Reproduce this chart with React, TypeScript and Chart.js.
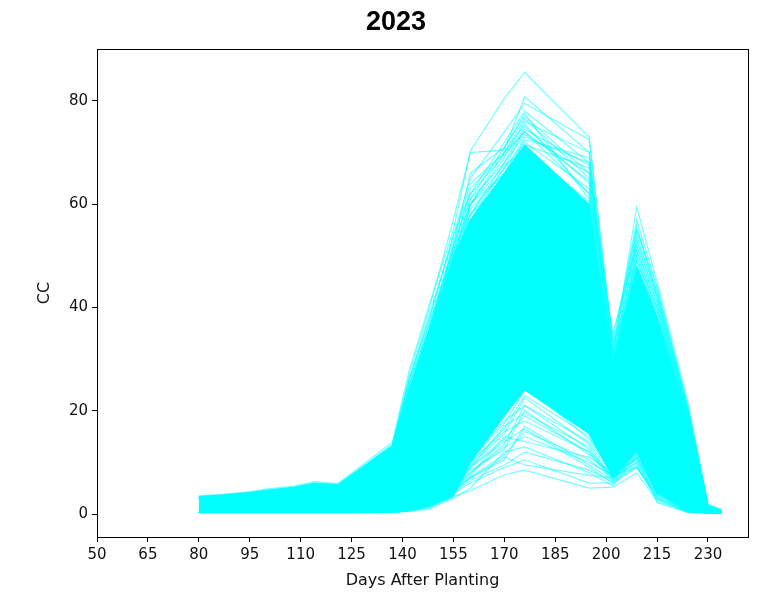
import React, { useEffect, useRef } from "react";
import { Chart, registerables } from "chart.js";

Chart.register(...registerables);

// Observation days (x knots shared by all series)
const DAYS = [80, 87, 95, 101, 108, 114, 121, 137, 142, 148, 155, 160, 170, 176, 195, 202, 209, 215, 224, 230, 234];

const X_TICKS = [50, 65, 80, 95, 110, 125, 140, 155, 170, 185, 200, 215, 230];
const Y_TICKS = [0, 20, 40, 60, 80];

const TITLE = "2023";
const X_LABEL = "Days After Planting";
const Y_LABEL = "CC";

// Dense core of the bundle of plots (upper / lower boundary of the solid region)
const BAND_TOP = [3.4, 3.7, 4.2, 4.7, 5.2, 6.0, 5.7, 13.2, 24, 36, 50, 57, 66, 71.5, 60, 29, 48, 38, 18.5, 1.6, 0.8];
const BAND_BOTTOM = [0.3, 0.3, 0.3, 0.3, 0.3, 0.3, 0.3, 0.3, 0.6, 1.5, 3.4, 10, 19, 24, 15.5, 7, 12, 4, 0.8, 0.2, 0.2];

// Individual plots sticking out above the dense core
const UPPER_1 = [3.5, 3.8, 4.3, 4.9, 5.4, 6.3, 5.9, 13.9, 27.8, 40.8, 55, 70.3, 80.5, 85.5, 73, 33, 45, 38, 20, 1.5, 0.5];
const UPPER_2 = [3.3, 3.6, 4.1, 4.6, 5.1, 5.9, 5.6, 13.5, 27, 40, 57, 70, 70.5, 80.8, 70, 31, 59.5, 45, 21.8, 2, 0.8];
const UPPER_3 = [3.2, 3.5, 4.0, 4.5, 5.0, 5.8, 5.5, 13, 26, 38, 54, 65, 74, 79.5, 72.5, 32, 57, 44, 21, 1.8, 0.6];
const UPPER_4 = [3.1, 3.4, 3.9, 4.4, 4.9, 5.7, 5.4, 12.8, 25, 36, 52, 62, 72, 78, 68, 30, 55, 43, 20.5, 1.5, 0.5];
const UPPER_5 = [3.0, 3.3, 3.8, 4.3, 4.8, 5.6, 5.3, 12.5, 24, 35, 50, 61, 71, 77, 66, 29, 54, 42, 20, 1.4, 0.5];
const UPPER_6 = [3.2, 3.5, 4.0, 4.5, 5.0, 5.8, 5.5, 13, 24, 36, 51, 63, 70, 76.5, 65, 28, 53, 41, 19.5, 1.3, 0.4];
const UPPER_7 = [3.0, 3.3, 3.8, 4.3, 4.8, 5.6, 5.3, 12, 23, 34, 49, 60, 69, 76, 70, 31, 52, 40, 19, 1.2, 0.4];
const UPPER_8 = [2.9, 3.2, 3.7, 4.2, 4.7, 5.5, 5.2, 12, 22, 33, 48, 58, 68, 75, 64, 27, 51, 39, 18.5, 1.1, 0.4];
const UPPER_9 = [3.1, 3.4, 3.9, 4.4, 4.9, 5.7, 5.4, 12.6, 22, 33, 47, 57, 67, 74.5, 67.5, 29, 50, 38, 18, 1, 0.3];
const UPPER_10 = [2.8, 3.1, 3.6, 4.1, 4.6, 5.4, 5.1, 11.5, 21, 31, 46, 60, 66, 73, 68, 30, 49, 38, 17.5, 1, 0.3];
const UPPER_11 = [3.0, 3.3, 3.8, 4.3, 4.8, 5.6, 5.3, 12.2, 23, 35, 50, 60, 70, 74, 62, 35, 52, 42, 20, 1.6, 0.6];
const UPPER_12 = [3.0, 3.3, 3.8, 4.3, 4.8, 5.6, 5.3, 13.0, 25, 37, 51, 58, 67, 72, 63, 28, 50, 40, 19, 1.4, 0.5];
const UPPER_13 = [3.1, 3.4, 3.9, 4.4, 4.9, 5.7, 5.4, 12.7, 24, 36, 52, 61, 68, 73.5, 66, 30, 51, 41, 19.5, 1.5, 0.5];
const UPPER_14 = [3.2, 3.5, 4.0, 4.5, 5.0, 5.8, 5.5, 13.2, 26, 39, 53, 64, 70, 75.5, 62, 27, 49, 40, 19, 1.3, 0.4];
const UPPER_15 = [2.9, 3.2, 3.7, 4.2, 4.7, 5.5, 5.2, 12.4, 23, 35, 50, 59, 66, 71.5, 67, 33, 53, 43, 20.5, 1.6, 0.6];
const UPPER_16 = [3.1, 3.4, 3.9, 4.4, 4.9, 5.7, 5.4, 12.9, 25, 37, 52, 66, 71, 77.5, 61, 28, 47, 37, 18, 1.2, 0.4];
const UPPER_17 = [2.9, 3.2, 3.7, 4.2, 4.7, 5.5, 5.2, 12.3, 22, 34, 49, 58, 65, 72.5, 69, 34, 55, 44, 21, 1.7, 0.6];
const UPPER_18 = [3.2, 3.5, 4.0, 4.5, 5.0, 5.8, 5.5, 13.1, 26, 38, 54, 62, 69.5, 74, 64.5, 31, 56, 42, 20, 1.5, 0.5];
const UPPER_19 = [3.0, 3.3, 3.8, 4.3, 4.8, 5.6, 5.3, 12.6, 24, 36, 51, 60, 67.5, 70.5, 60.5, 26, 48, 39, 18.5, 1.2, 0.4];

// Individual plots sticking out below the dense core
const LOWER_1 = [0.2, 0.2, 0.2, 0.2, 0.2, 0.2, 0.2, 0.3, 0.5, 1.0, 3.4, 4.5, 7.6, 8.5, 5.0, 5.2, 8, 2.5, 0.3, 0.2, 0.2];
const LOWER_2 = [0.3, 0.3, 0.3, 0.3, 0.3, 0.3, 0.3, 0.4, 0.7, 1.4, 4, 6, 9, 10.5, 6, 6, 9, 3, 0.4, 0.2, 0.2];
const LOWER_3 = [0.3, 0.3, 0.3, 0.3, 0.3, 0.3, 0.3, 0.4, 0.8, 1.6, 4.5, 7, 11, 9.5, 7.5, 7, 10, 3.5, 0.5, 0.2, 0.2];
const LOWER_4 = [0.2, 0.2, 0.2, 0.2, 0.2, 0.2, 0.2, 0.3, 0.6, 1.2, 3, 5, 12, 13, 8, 5.5, 11, 2.2, 0.3, 0.2, 0.2];
const LOWER_5 = [0.3, 0.3, 0.3, 0.3, 0.3, 0.3, 0.3, 0.5, 1, 2, 5, 8, 13, 15, 10, 7.5, 9, 4, 0.6, 0.2, 0.2];
const LOWER_6 = [0.3, 0.3, 0.3, 0.3, 0.3, 0.3, 0.3, 0.6, 1.2, 2.3, 5.5, 9, 14, 16.5, 9, 6, 12, 3.8, 0.5, 0.2, 0.2];
const LOWER_7 = [0.3, 0.3, 0.3, 0.3, 0.3, 0.3, 0.3, 0.5, 1.1, 2, 4.8, 7.5, 15, 14, 11, 8, 10.5, 4.5, 0.7, 0.2, 0.2];
const LOWER_8 = [0.3, 0.3, 0.3, 0.3, 0.3, 0.3, 0.3, 0.7, 1.5, 2.8, 6, 10, 16, 18, 12, 6.5, 13, 5, 0.8, 0.2, 0.2];
const LOWER_9 = [0.3, 0.3, 0.3, 0.3, 0.3, 0.3, 0.3, 0.6, 1.3, 2.5, 5, 9, 17, 19.5, 13, 7, 11.5, 4.2, 0.6, 0.2, 0.2];
const LOWER_10 = [0.3, 0.3, 0.3, 0.3, 0.3, 0.3, 0.3, 0.8, 1.6, 3, 6.5, 11, 18, 21, 14, 8.5, 12.5, 5.5, 0.9, 0.2, 0.2];
const LOWER_11 = [0.3, 0.3, 0.3, 0.3, 0.3, 0.3, 0.3, 0.7, 1.4, 2.6, 5.8, 10, 16.5, 23, 15, 7.5, 13.5, 5, 0.8, 0.2, 0.2];
const LOWER_12 = [0.3, 0.3, 0.3, 0.3, 0.3, 0.3, 0.3, 0.9, 1.8, 3.2, 7, 12, 19, 25, 14.5, 9, 12, 6, 1, 0.2, 0.2];
const LOWER_13 = [0.3, 0.3, 0.3, 0.3, 0.3, 0.3, 0.3, 0.6, 1.2, 2.4, 5.2, 8.5, 12.5, 20, 11.5, 7, 10, 3.2, 0.5, 0.2, 0.2];
const LOWER_14 = [0.3, 0.3, 0.3, 0.3, 0.3, 0.3, 0.3, 0.5, 1, 2.2, 4.6, 7, 10.5, 17, 9.5, 6.5, 9.5, 2.8, 0.4, 0.2, 0.2];
const LOWER_15 = [0.3, 0.3, 0.3, 0.3, 0.3, 0.3, 0.3, 0.5, 1.1, 2.3, 5, 8, 13.5, 21, 12.5, 7, 11, 4, 0.6, 0.2, 0.2];
const LOWER_16 = [0.3, 0.3, 0.3, 0.3, 0.3, 0.3, 0.3, 0.6, 1.3, 2.7, 6, 9.5, 15.5, 22.5, 13.5, 7.8, 12, 4.6, 0.7, 0.2, 0.2];
const LOWER_17 = [0.3, 0.3, 0.3, 0.3, 0.3, 0.3, 0.3, 0.4, 0.9, 1.8, 4.2, 6.5, 9.5, 12, 8.5, 6.2, 9.2, 3, 0.4, 0.2, 0.2];
const LOWER_18 = [0.3, 0.3, 0.3, 0.3, 0.3, 0.3, 0.3, 0.7, 1.4, 2.9, 6.2, 10.5, 17.5, 24, 16, 8.2, 13, 5.2, 0.8, 0.2, 0.2];
const LOWER_19 = [0.3, 0.3, 0.3, 0.3, 0.3, 0.3, 0.3, 0.5, 1, 2.1, 4.4, 7.2, 11.5, 16, 10.5, 6.8, 10.8, 3.6, 0.5, 0.2, 0.2];
const LOWER_20 = [0.3, 0.3, 0.3, 0.3, 0.3, 0.3, 0.3, 0.6, 1.2, 2.5, 5.4, 9.2, 14.5, 19, 12, 7.2, 11.2, 4.8, 0.6, 0.2, 0.2];

const UPPER_LINES = [
  UPPER_1, UPPER_2, UPPER_3, UPPER_4, UPPER_5, UPPER_6, UPPER_7, UPPER_8, UPPER_9, UPPER_10,
  UPPER_11, UPPER_12, UPPER_13, UPPER_14, UPPER_15, UPPER_16, UPPER_17, UPPER_18, UPPER_19,
];
const LOWER_LINES = [
  LOWER_1, LOWER_2, LOWER_3, LOWER_4, LOWER_5, LOWER_6, LOWER_7, LOWER_8, LOWER_9, LOWER_10,
  LOWER_11, LOWER_12, LOWER_13, LOWER_14, LOWER_15, LOWER_16, LOWER_17, LOWER_18, LOWER_19, LOWER_20,
];

const CYAN = "#00ffff";
const CYAN_LINE = "rgba(0,255,255,0.55)";
const FONT = "'DejaVu Sans', sans-serif";

const toPoints = (vals: number[]) => vals.map((v, i) => ({ x: DAYS[i], y: v }));

const framePlugin = {
  id: "frame",
  afterDraw(chart: any) {
    const { ctx, chartArea } = chart;
    ctx.save();
    ctx.strokeStyle = "#000";
    ctx.lineWidth = 1;
    ctx.strokeRect(
      Math.round(chartArea.left) + 0.5,
      Math.round(chartArea.top) + 0.5,
      Math.round(chartArea.right - chartArea.left),
      Math.round(chartArea.bottom - chartArea.top)
    );
    ctx.fillStyle = "#000";
    ctx.font = "bold 27px 'Liberation Sans', Arial, sans-serif";
    ctx.textAlign = "center";
    ctx.textBaseline = "middle";
    ctx.fillText(TITLE, 396, 23);
    ctx.restore();
  },
};

export default function App() {
  const ref = useRef<HTMLCanvasElement>(null);

  useEffect(() => {
    if (!ref.current) return;
    const lineDs = (vals: number[]) => ({
      data: toPoints(vals),
      borderColor: CYAN_LINE,
      borderWidth: 1.2,
      pointRadius: 0,
      fill: false,
      tension: 0,
    });
    const datasets: any[] = [
      ...UPPER_LINES.map(lineDs),
      ...LOWER_LINES.map(lineDs),
      {
        data: toPoints(BAND_TOP),
        borderColor: CYAN,
        borderWidth: 1,
        pointRadius: 0,
        fill: false,
        tension: 0,
      },
      {
        data: toPoints(BAND_BOTTOM),
        borderColor: CYAN,
        borderWidth: 1,
        pointRadius: 0,
        backgroundColor: CYAN,
        fill: "-1",
        tension: 0,
      },
    ];

    const tickFont = { family: FONT, size: 15 };
    const chart = new Chart(ref.current, {
      type: "line",
      data: { datasets },
      plugins: [framePlugin],
      options: {
        animation: false,
        responsive: false,
        events: [],
        layout: { padding: { top: 49, right: 11, bottom: 0, left: 0 } },
        plugins: {
          legend: { display: false },
          tooltip: { enabled: false },
          title: { display: false },
        },
        scales: {
          x: {
            type: "linear",
            min: 50,
            max: 241.8,
            afterFit: (s: any) => {
              s.height = 56;
            },
            afterBuildTicks: (s: any) => {
              s.ticks = X_TICKS.map((v) => ({ value: v }));
            },
            ticks: { font: tickFont, color: "#111", padding: 4, maxRotation: 0, autoSkip: false },
            grid: { drawOnChartArea: false, drawTicks: true, tickLength: 5, tickColor: "#000" },
            border: { display: false },
            title: {
              display: true,
              text: X_LABEL,
              font: { family: FONT, size: 16 },
              color: "#111",
              padding: { top: 0, bottom: 2.4 },
            },
          },
          y: {
            type: "linear",
            min: -4.45,
            max: 90.05,
            afterFit: (s: any) => {
              s.width = 97;
            },
            afterBuildTicks: (s: any) => {
              s.ticks = Y_TICKS.map((v) => ({ value: v }));
            },
            ticks: { font: tickFont, color: "#111", padding: 4 },
            grid: { drawOnChartArea: false, drawTicks: true, tickLength: 5, tickColor: "#000" },
            border: { display: false },
            title: {
              display: true,
              text: Y_LABEL,
              font: { family: FONT, size: 16 },
              color: "#111",
              padding: { top: 35.4, bottom: 0 },
            },
          },
        },
      },
    });
    return () => chart.destroy();
  }, []);

  return (
    <div style={{ position: "fixed", left: 0, top: 0, width: 759, height: 593, background: "#fff" }}>
      <canvas ref={ref} width={759} height={593} />
    </div>
  );
}
